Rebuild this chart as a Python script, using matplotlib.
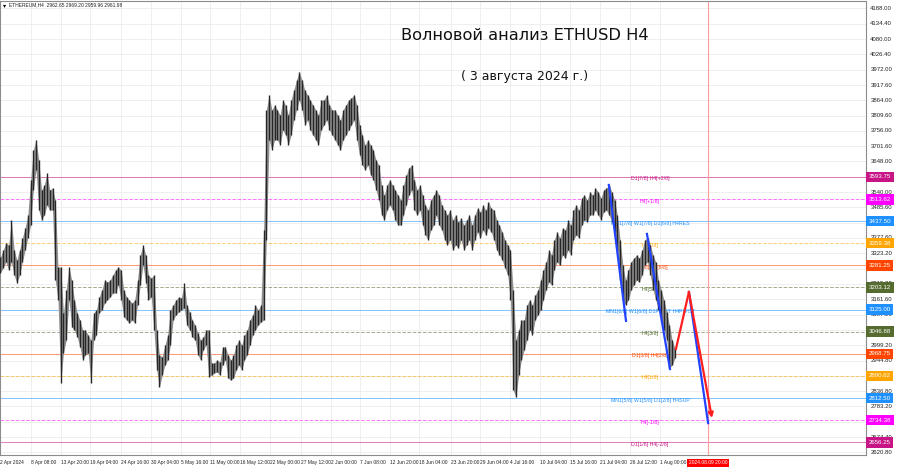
import numpy as np
import matplotlib.pyplot as plt
import matplotlib.transforms as mtransforms

# ETHUSD H4, 2 апреля - 3 августа 2024, максимумы/минимумы по полудням
hi = [3310, 3335, 3360, 3353, 3440, 3335, 3300, 3335, 3378, 3413,
      3459, 3582, 3688, 3724, 3653, 3547, 3565, 3607, 3547, 3554,
      3512, 3275, 3275, 3113, 3194, 3275, 3229, 3159, 3113, 3088,
      3053, 3053, 3035, 3017, 3113, 3123, 3169, 3194, 3229, 3222,
      3229, 3247, 3265, 3275, 3265, 3194, 3169, 3159, 3148, 3159,
      3229, 3318, 3353, 3318, 3247, 3236, 3247, 3053, 2965, 2958,
      3000, 3035, 3123, 3141, 3159, 3169, 3166, 3219, 3141, 3116,
      3088, 3070, 3042, 3017, 3028, 3053, 3053, 2936, 2936, 2947,
      2940, 2993, 2993, 2965, 2947, 2965, 3000, 3017, 3000, 3035,
      3053, 3088, 3106, 3141, 3123, 3141, 3406, 3830, 3883, 3830,
      3847, 3830, 3812, 3865, 3847, 3812, 3865, 3900, 3936, 3964,
      3936, 3900, 3883, 3865, 3847, 3830, 3812, 3865, 3865, 3883,
      3847, 3830, 3830, 3812, 3794, 3830, 3847, 3865, 3872, 3883,
      3847, 3777, 3741, 3706, 3724, 3706, 3688, 3653, 3635, 3565,
      3529, 3565, 3582, 3565, 3547, 3529, 3512, 3565, 3600, 3625,
      3635, 3582, 3547, 3565, 3529, 3494, 3476, 3512, 3529, 3547,
      3529, 3494, 3476, 3459, 3476, 3441, 3459, 3434, 3448, 3423,
      3441, 3459, 3423, 3459, 3483, 3469, 3494, 3476, 3505, 3483,
      3476, 3441, 3423, 3399, 3371, 3353, 3335, 3194, 3017, 3053,
      3088, 3088, 3141, 3159, 3141, 3176, 3194, 3229, 3265, 3293,
      3335, 3318, 3371, 3399, 3378, 3413, 3406, 3441, 3423, 3476,
      3494, 3476, 3519, 3529, 3512, 3540, 3529, 3554, 3540, 3519,
      3547, 3554, 3565, 3540, 3512, 3459, 3371, 3282, 3229, 3265,
      3293, 3307, 3318, 3307, 3335, 3371, 3378, 3353, 3318, 3293,
      3229, 3194, 3159, 3116, 3070, 3017, 2989]
lo = [3254, 3272, 3293, 3265, 3293, 3247, 3218, 3247, 3293, 3335,
      3378, 3423, 3547, 3618, 3476, 3441, 3459, 3494, 3476, 3476,
      3229, 3159, 2866, 2972, 3017, 3159, 3063, 3053, 3028, 2993,
      2947, 2965, 2972, 2866, 3017, 3035, 3113, 3123, 3148, 3159,
      3169, 3183, 3183, 3212, 3159, 3099, 3088, 3077, 3088, 3077,
      3141, 3212, 3282, 3219, 3159, 3169, 3053, 2911, 2851, 2894,
      2929, 2947, 3000, 3088, 3106, 3116, 3123, 3130, 3070, 3053,
      3028, 3017, 2965, 2947, 2982, 3000, 2887, 2894, 2901, 2904,
      2894, 2929, 2947, 2883, 2876, 2883, 2911, 2929, 2911, 2947,
      2965, 3000, 3035, 3053, 3070, 3081, 3088, 3371, 3724, 3688,
      3724, 3724, 3706, 3759, 3741, 3706, 3741, 3794, 3830, 3865,
      3830, 3777, 3794, 3759, 3741, 3724, 3706, 3759, 3777, 3794,
      3759, 3741, 3724, 3706, 3688, 3724, 3741, 3759, 3777, 3794,
      3724, 3671, 3635, 3618, 3635, 3600, 3582, 3547, 3512, 3459,
      3441, 3476, 3494, 3476, 3441, 3423, 3423, 3459, 3494, 3529,
      3547, 3476, 3459, 3476, 3423, 3388, 3371, 3406, 3423, 3459,
      3423, 3406, 3371, 3353, 3371, 3335, 3353, 3342, 3371, 3335,
      3353, 3371, 3335, 3371, 3399, 3378, 3406, 3388, 3413, 3399,
      3371, 3335, 3318, 3300, 3272, 3247, 3159, 2841, 2816, 2894,
      2947, 2982, 3017, 3053, 3035, 3088, 3106, 3123, 3159, 3194,
      3222, 3212, 3265, 3293, 3282, 3318, 3307, 3335, 3318, 3371,
      3388, 3378, 3423, 3441, 3434, 3459, 3459, 3476, 3459, 3441,
      3469, 3476, 3459, 3434, 3399, 3335, 3229, 3159, 3141, 3159,
      3194, 3212, 3229, 3222, 3247, 3282, 3293, 3247, 3194, 3159,
      3123, 3095, 3053, 3017, 2918, 2929, 2954]

# уровни Мюррея
lvl_price = [3593.75, 3513.62, 3437.50, 3359.38, 3281.25, 3203.12, 3125.00,
             3046.88, 2968.75, 2890.62, 2812.50, 2734.38, 2656.25]
lvl_text = ["D1[7/8] H4[+2/8]", "H4[+1/8]", "MN1[7/8] W1[7/8] D1[6/8] H4RES",
            "H4[7/8]", "D1[5/8] H4[6/8]", "H4[5/8]",
            "MN1[6/8] W1[6/8] D1PIVOT H4PIVOT", "H4[3/8]", "D1[3/8] H4[2/8]",
            "H4[1/8]", "MN1[5/8] W1[5/8] D1[2/8] H4SUP", "H4[-1/8]",
            "D1[1/8] H4[-2/8]"]
lvl_color = ["#c71585", "#ff00ff", "#1e90ff", "#ffa500", "#ff4500", "#556b2f",
             "#1e90ff", "#556b2f", "#ff4500", "#ffa500", "#1e90ff", "#ff00ff",
             "#c71585"]
lvl_style = ["-", "--", "-", "--", "-", "--", "-", "--", "-", "--", "-", "--", "-"]

price_ticks = [4188.00, 4134.40, 4080.00, 4026.40, 3972.00, 3917.60, 3864.00,
               3809.60, 3756.00, 3701.60, 3648.00, 3594.40, 3540.00, 3485.60,
               3431.20, 3377.60, 3323.20, 3268.80, 3215.20, 3161.60, 3107.20,
               3053.20, 2999.20, 2944.80, 2890.40, 2836.80, 2783.20, 2728.80,
               2674.40, 2620.80]
# подписи, закрытые метками уровней
hidden_ticks = [3594.40, 3431.20, 3268.80, 2890.40, 2728.80]

# дни от 2 апреля 00:00
time_days = [0.675, 6.333, 11.833, 17.167, 22.667, 28.167, 33.667, 39.0, 44.5,
             50.0, 55.5, 61.0, 66.333, 71.833, 77.167, 82.833, 88.167, 93.667,
             99.167, 104.667, 110.167, 115.5, 121.0]
time_labels = ["2 Apr 2024", "8 Apr 08:00", "13 Apr 20:00", "19 Apr 04:00",
               "24 Apr 16:00", "30 Apr 04:00", "5 May 16:00", "11 May 00:00",
               "16 May 12:00", "22 May 00:00", "27 May 12:00", "2 Jun 00:00",
               "7 Jun 08:00", "12 Jun 20:00", "18 Jun 04:00", "23 Jun 20:00",
               "29 Jun 04:00", "4 Jul 16:00", "10 Jul 04:00", "15 Jul 16:00",
               "21 Jul 04:00", "26 Jul 12:00", "1 Aug 00:00"]

# волновая разметка (день, цена)
blue_waves = [[(111.7, 3565), (114.83, 3085)],
              [(118.65, 3392), (122.85, 2915)],
              [(126.3, 3187), (129.8, 2724)]]
red_path = [(123.94, 2986), (126.3, 3187), (130.5, 2742)]
cursor_day = 129.833

small = "Liberation Sans"

######################################
fig = plt.figure(figsize=(9, 4.68), dpi=100)
ax = fig.add_axes([0.0, 0.0278, 0.9622, 0.9701])
ax.set_xlim(0.675, 158.59)
ax.set_ylim(2611.4, 4214.5)
ax.set_xticks([])
ax.set_yticks([])
for s in ax.spines.values():
    s.set_color("#8c8c8c")
    s.set_linewidth(0.8)

# сетка
for p in price_ticks:
    ax.axhline(p, color="#ededed", lw=0.6, zorder=0)
for d in time_days[1:]:
    ax.axvline(d, color="#ededed", lw=0.6, zorder=0)

# уровни
for p, c, ls, t in zip(lvl_price, lvl_color, lvl_style, lvl_text):
    ax.axhline(p, color=c, lw=0.7, ls=ls, alpha=0.55, zorder=1)
    ax.text(119.2, p - 7, t, color=c, fontsize=3.8, family=small,
            ha="center", va="center", zorder=2)

# свечи
t = np.arange(len(hi)) * 0.5 + 0.75
ax.fill_between(t, lo, hi, color="#8f8f8f", lw=0, zorder=2.5)
ax.vlines(t, lo, hi, color="#262626", lw=1.0, zorder=3)

# вертикаль курсора
ax.axvline(cursor_day, color="#ff9c9c", lw=0.8, zorder=1)

# волны
for w in blue_waves:
    xs, ys = zip(*w)
    ax.plot(xs, ys, color="#2142ff", lw=1.6, zorder=4)
xs, ys = zip(*red_path[:2])
ax.plot(xs, ys, color="#ff1e1e", lw=1.6, zorder=4)
ax.annotate("", xy=red_path[2], xytext=red_path[1],
            arrowprops=dict(arrowstyle="-|>", color="#ff1e1e", lw=1.6,
                            mutation_scale=7, shrinkA=0, shrinkB=0), zorder=4)

# правая шкала
tr_y = mtransforms.blended_transform_factory(ax.transAxes, ax.transData)
for p in price_ticks:
    if p in hidden_ticks:
        continue
    ax.text(1.005, p, f"{p:.2f}", transform=tr_y, fontsize=4.3, family=small,
            color="#222222", ha="left", va="center", clip_on=False)
for p, c in zip(lvl_price, lvl_color):
    ax.text(1.003, p, f"{p:.2f}", transform=tr_y, fontsize=4.4, family=small,
            color="white", ha="left", va="center", clip_on=False, zorder=6,
            bbox=dict(boxstyle="square,pad=0.45", fc=c, ec="none"))

# шкала времени
tr_x = mtransforms.blended_transform_factory(ax.transData, ax.transAxes)
for d, lab in zip(time_days, time_labels):
    ax.text(d, -0.0176, lab, transform=tr_x, fontsize=3.5, family=small,
            color="#222222", ha="left", va="center", clip_on=False)
ax.text(cursor_day, -0.0176, "2024.08.09 20:00", transform=tr_x, fontsize=3.5,
        family=small, color="white", ha="center", va="center", clip_on=False,
        bbox=dict(boxstyle="square,pad=0.35", fc="#ff0000", ec="none"))

# заголовки
fig.text(0.003, 0.989, "\u25BE", fontsize=4.5, va="center", ha="left")
fig.text(0.010, 0.989, "ETHEREUM,H4  2962.65 2969.20 2959.96 2961.98",
         fontsize=3.5, family=small, va="center", ha="left", color="#222222")
fig.text(0.583, 0.925, "Волновой анализ ETHUSD H4", fontsize=11.7,
         ha="center", va="center", color="#111111")
fig.text(0.583, 0.8355, "( 3 августа 2024 г.)", fontsize=9,
         ha="center", va="center", color="#111111")

plt.savefig("out.png", dpi=100)
